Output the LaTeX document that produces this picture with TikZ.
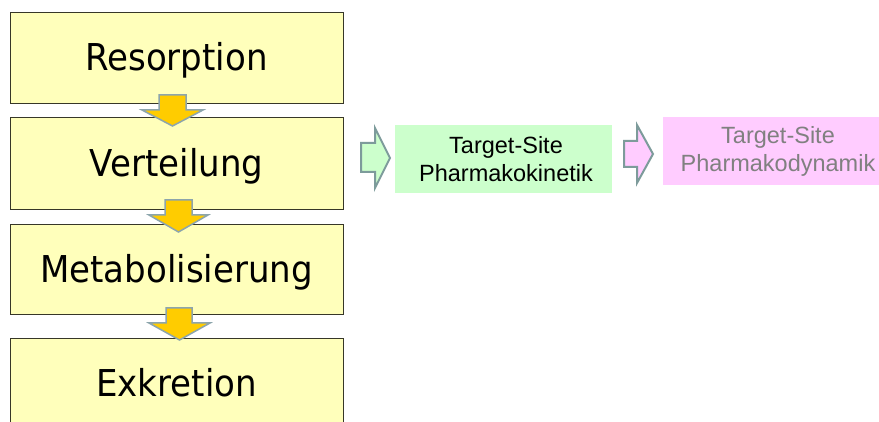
\documentclass[tikz,border=0pt]{standalone}
\usepackage{fontspec}
\newfontfamily\bigfont[FakeStretch=0.92]{DejaVu Sans}
\newfontfamily\smallfont{Liberation Sans}
\definecolor{boxfill}{RGB}{255,255,187}
\definecolor{boxline}{RGB}{55,55,40}
\definecolor{gold}{RGB}{255,204,0}
\definecolor{goldline}{RGB}{140,165,172}
\definecolor{greenfill}{RGB}{204,255,204}
\definecolor{pinkfill}{RGB}{255,204,255}
\definecolor{blockline}{RGB}{125,155,155}
\definecolor{greytext}{RGB}{128,128,128}
\tikzset{
  stagebox/.style={draw=boxline, line width=0.8pt, fill=boxfill, minimum width=333pt,
    inner sep=0pt, text height=27pt, text depth=0pt,
    font=\bigfont\fontsize{37}{40}\selectfont},
  downarrow/.style={fill=gold, draw=goldline, line width=1.5pt, line join=miter},
  rightarrow/.style={draw=blockline, line width=2pt, line join=miter},
  flatbox/.style={inner sep=0pt, minimum width=217pt, minimum height=68pt},
  smalltext/.style={align=center, inner sep=0pt, font=\smallfont\fontsize{23.5}{28}\selectfont}
}
\begin{document}
\begin{tikzpicture}[x=1pt,y=-1pt]
\useasboundingbox (0,0) rectangle (879,422);
\fill[white] (0,0) rectangle (879,422);
% stage boxes
\node[stagebox, minimum height=91pt] (res) at (176.5,57.5) {Resorption};
\node[stagebox, minimum height=92pt] (ver) at (176.5,163) {Verteilung};
\node[stagebox, minimum height=90pt] (met) at (176.5,269) {Metabolisierung};
\begin{scope}
\clip (0,0) rectangle (879,422);
\node[stagebox, minimum height=90pt] (exk) at (176.5,383) {Exkretion};
\end{scope}
% down arrows between boxes
\draw[downarrow] (159,95) -- (186,95) -- (186,110) -- (203,110) -- (172.5,126) -- (142,110) -- (159,110) -- cycle;
\draw[downarrow] (165,200) -- (192,200) -- (192,215) -- (208,215) -- (178.5,232) -- (149,215) -- (165,215) -- cycle;
\draw[downarrow] (166,308) -- (192,308) -- (192,323) -- (210,323) -- (179.5,340) -- (149,323) -- (166,323) -- cycle;
% target-site boxes
\node[flatbox, fill=greenfill] (pk) at (503.5,159) {};
\node[smalltext] (pktext) at (506,159) {Target-Site\\Pharmakokinetik};
\node[flatbox, fill=pinkfill, minimum width=216pt] (pdbox) at (771,151) {};
\node[smalltext, text=greytext] (pd) at (778,151) {Target-Site\\Pharmakodynamik};
% right block arrows
\draw[rightarrow, fill=greenfill] (361,143) -- (375,143) -- (375,128) -- (390,158) -- (375,188) -- (375,172) -- (361,172) -- cycle;
\draw[rightarrow, fill=pinkfill] (624,141) -- (637,141) -- (637,125) -- (653,154) -- (637,183) -- (637,167) -- (624,167) -- cycle;
\end{tikzpicture}
\end{document}
